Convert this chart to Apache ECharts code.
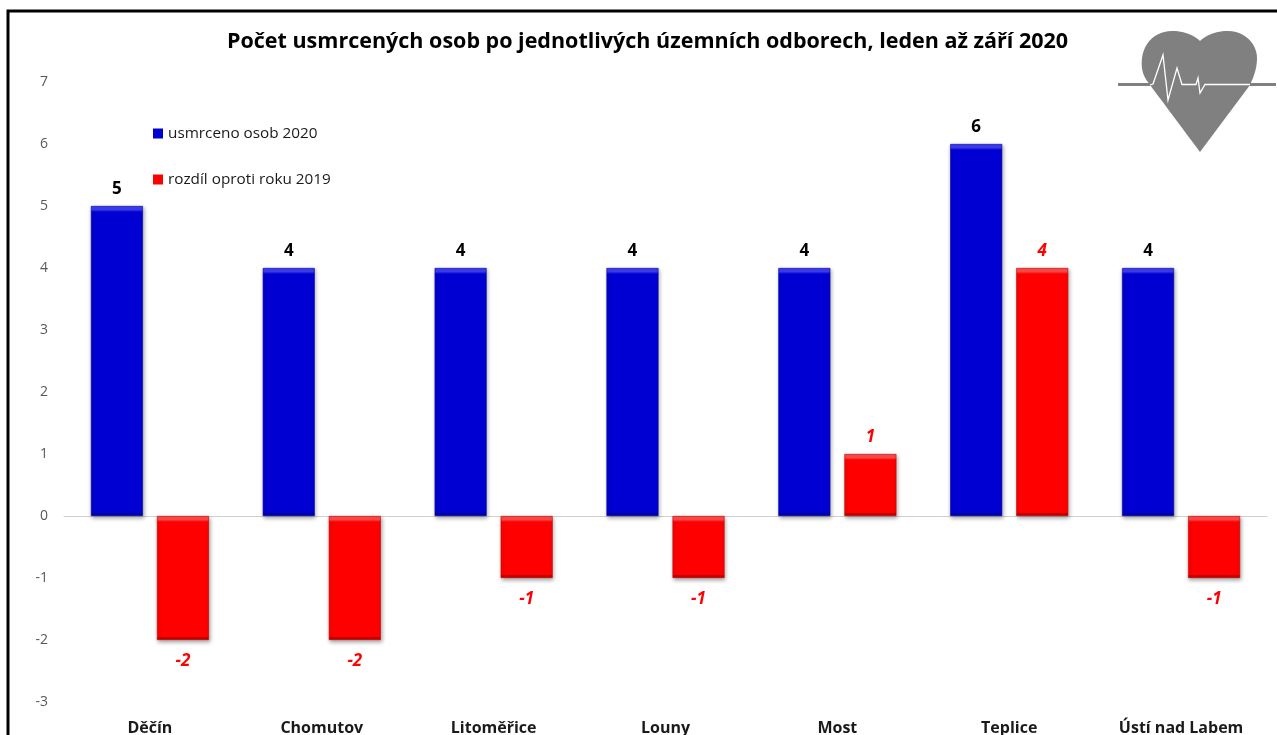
<!DOCTYPE html>
<html><head><meta charset="utf-8">
<style>html,body{margin:0;padding:0;background:#fff}#c{width:1277px;height:735px}</style>
<script src="https://cdn.jsdelivr.net/npm/echarts@6/dist/echarts.min.js"></script>
</head><body><div id="c"></div>
<script>
const titleText = 'Počet usmrcených osob po jednotlivých územních odborech, leden až září 2020';
const categories = ['Děčín','Chomutov','Litoměřice','Louny','Most','Teplice','Ústí nad Labem'];
const deaths2020 = [5,4,4,4,4,6,4];
const diff2019 = [-2,-2,-1,-1,1,4,-1];
const seriesNames = ['usmrceno osob 2020','rozdíl oproti roku 2019'];
const font = '"Open Sans","Noto Sans",sans-serif';
const unit = 62;
function bevel(v, light, base, dark){
  const h = Math.abs(v) * unit, t = 6 / h, b = 2.5 / h;
  const stops = [
    {offset:0,color:light},{offset:t*0.6,color:light},{offset:t,color:base},
    {offset:1-b,color:base},{offset:1-b,color:dark},{offset:1,color:dark}];
  return {color:{type:'linear',x:0,y:0,x2:0,y2:1,colorStops:stops},
    borderColor:dark,borderWidth:0.6,shadowColor:'rgba(0,0,0,0.35)',shadowBlur:4,shadowOffsetX:1,shadowOffsetY:2};
}
// decorative heart outline, sampled from cubic segments
const heartStart = [1200,152];
const heartCurves = [
  [[1200,152],[1150,85],[1150,85]],
  [[1142,75],[1141,68],[1142,58]],
  [[1144,42],[1156,31],[1172,31]],
  [[1184,31],[1194,35],[1200,41]],
  [[1206,35],[1216,31],[1228,31]],
  [[1245,31],[1257,44],[1257,58]],
  [[1257,68],[1254,76],[1250,85]]
];
function heartPoints(){
  const pts=[heartStart]; let p=heartStart;
  heartCurves.forEach(([a,b,c])=>{
    for(let i=1;i<=12;i++){const t=i/12,u=1-t;
      pts.push([0,1].map(k=>u*u*u*p[k]+3*u*u*t*a[k]+3*u*t*t*b[k]+t*t*t*c[k]));}
    p=c;
  });
  return pts;
}
const chart = echarts.init(document.getElementById('c'));
const labelBase = {show:true,position:'top',distance:8,fontFamily:font,fontSize:17,fontWeight:'bold'};
chart.setOption({
  animation:false,
  backgroundColor:'#fff',
  title:{text:titleText,left:222,top:26,
    textStyle:{fontFamily:font,fontSize:21.5,fontWeight:'bold',color:'#000'}},
  legend:{orient:'vertical',left:148,top:121,itemWidth:10,itemHeight:10,itemGap:31,selectedMode:false,
    icon:'rect',data:seriesNames,textStyle:{fontFamily:font,fontSize:15.3,color:'#1a1a1a'}},
  grid:{left:64,right:10,top:82,bottom:33,outerBoundsMode:'none'},
  xAxis:[
    {type:'category',data:categories,position:'bottom',axisLine:{show:false,onZero:false},axisTick:{show:false},
     axisLabel:{fontFamily:font,fontSize:16,fontWeight:'bold',color:'#1a1a1a',margin:18,interval:0}},
    {type:'category',data:categories,position:'top',axisLine:{show:true,onZero:true,lineStyle:{color:'#d0d0d0',width:1}},
     axisTick:{show:false},axisLabel:{show:false}}
  ],
  yAxis:{type:'value',min:-3,max:7,interval:1,splitLine:{show:false},axisLine:{show:false},axisTick:{show:false},
    axisLabel:{fontFamily:font,fontSize:14,color:'#595959',margin:16,lineHeight:17}},
  series:[
    {name:seriesNames[0],type:'bar',barWidth:52,barGap:'27%',itemStyle:{color:'#0000d0'},
     data:deaths2020.map(v=>({value:v,itemStyle:bevel(v,'#3c3cf0','#0000d2','#0000a8')})),
     label:{...labelBase,color:'#000'}},
    {name:seriesNames[1],type:'bar',barWidth:52,itemStyle:{color:'#ff0000'},
     data:diff2019.map(v=>({value:v,itemStyle:bevel(v,'#ff4a4a','#ff0000','#c40000'),
       label:{position:v<0?'bottom':'top',distance:v<0?13:8}})),
     label:{...labelBase,color:'#ff0000',fontStyle:'italic'}}
  ],
  graphic:[
    {type:'polyline',silent:true,z:10,shape:{points:[[8,735],[8,11],[1277,11]]},style:{stroke:'#000',lineWidth:3,fill:null}},
    {type:'polyline',silent:true,z:9,shape:{points:[[1118,84.5],[1276,84.5]]},style:{stroke:'#808080',lineWidth:3,fill:null}},
    {type:'polygon',silent:true,z:10,shape:{points:heartPoints()},style:{fill:'#808080'}},
    {type:'polyline',silent:true,z:11,
     shape:{points:[[1150,85],[1153,84],[1163,55],[1168,100],[1177,68],[1182,84.5],[1196,84.5],[1198,78],[1200,93],[1205,84.5],[1250,84.5]]},
     style:{stroke:'#fff',lineWidth:1.3,fill:null}}
  ]
});
</script></body></html>
